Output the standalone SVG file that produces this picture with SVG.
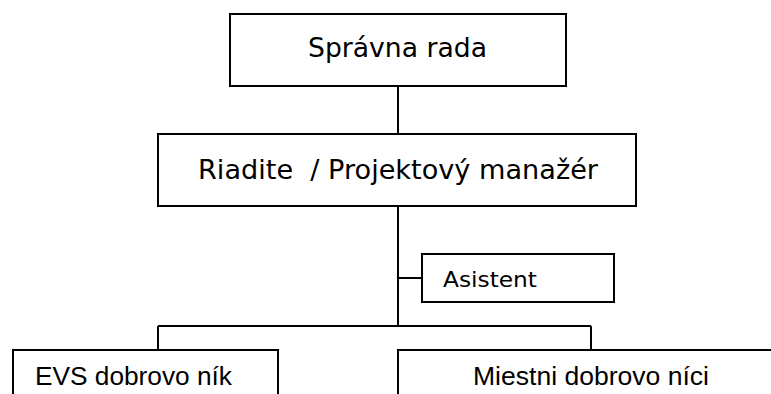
<svg xmlns="http://www.w3.org/2000/svg" width="771" height="394" viewBox="0 0 771 394">
<style>
.box{fill:#fff;stroke:#000;stroke-width:2}
.ln{fill:none;stroke:#000;stroke-width:2}
.t1{font-family:"DejaVu Sans",Verdana,sans-serif;font-size:26px;fill:#000;white-space:pre}
.t2{font-family:"DejaVu Sans",Verdana,sans-serif;font-size:22px;fill:#000}
.t3{font-family:"Liberation Sans",Arial,sans-serif;font-size:26px;fill:#000}
</style>
<rect width="771" height="394" fill="#fff"/>
<g id="connectors">
<path class="ln" d="M398 86V134M398 206V326M398 278H422M158 326H591M158 326V350M591 326V350"/>
</g>
<g id="n-sprava">
<rect class="box" x="230" y="14" width="336" height="72"/>
<text class="t1" x="308" y="57" textLength="179" lengthAdjust="spacingAndGlyphs">Správna rada</text>
</g>
<g id="n-riaditel">
<rect class="box" x="158" y="134" width="478" height="72"/>
<text class="t1" x="198" y="179" xml:space="preserve" textLength="400" lengthAdjust="spacingAndGlyphs">Riadite  / Projektový manažér</text>
</g>
<g id="n-asistent">
<rect class="box" x="422" y="254" width="192" height="48"/>
<text class="t2" x="443" y="287" textLength="94" lengthAdjust="spacingAndGlyphs">Asistent</text>
</g>
<g id="n-evs">
<rect class="box" x="13" y="350" width="265" height="60"/>
<text class="t3" x="35" y="385" textLength="197" lengthAdjust="spacingAndGlyphs">EVS dobrovo ník</text>
</g>
<g id="n-miestni">
<rect class="box" x="398" y="350" width="390" height="60"/>
<text class="t3" x="473" y="385" textLength="236" lengthAdjust="spacingAndGlyphs">Miestni dobrovo níci</text>
</g>
</svg>
